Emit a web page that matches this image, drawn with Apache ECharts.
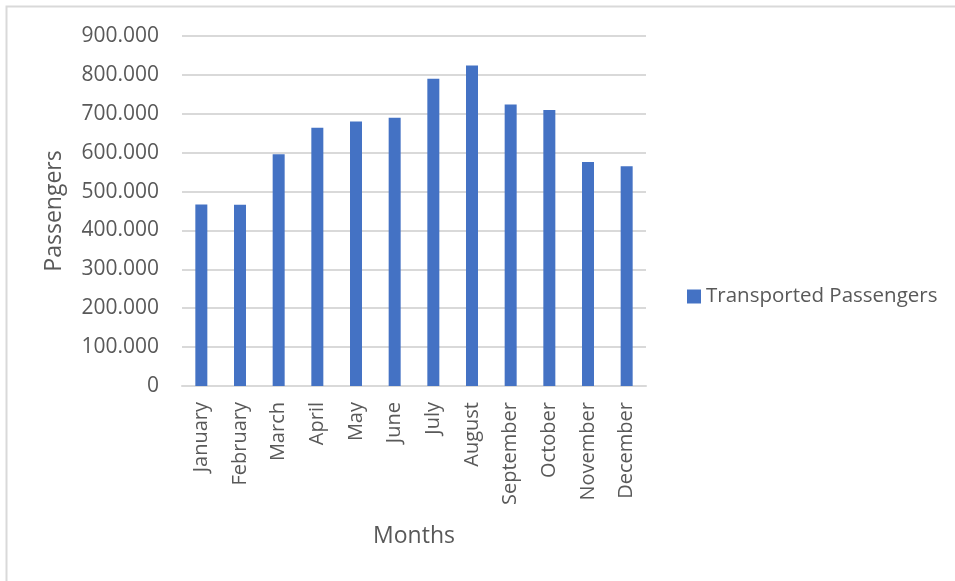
<!DOCTYPE html>
<html>
<head>
<meta charset="utf-8">
<script src="https://cdn.jsdelivr.net/npm/echarts@6/dist/echarts.min.js"></script>
<style>
  html, body { margin: 0; padding: 0; background: #fff; }
  #chart { width: 955px; height: 581px; }
</style>
</head>
<body>
<div id="chart"></div>
<script>
// Monthly transported passengers
const months = ['January', 'February', 'March', 'April', 'May', 'June',
  'July', 'August', 'September', 'October', 'November', 'December'];
const passengers = [467000, 466000, 596000, 664000, 680000, 690000,
  790000, 824000, 724000, 710000, 576000, 565000];
const seriesName = 'Transported Passengers';

const FONT = '"Open Sans", sans-serif';
const TEXT = '#595959';
const GRID_LINE = '#d9d9d9';

// "900.000" style thousands separator
function fmt(v) {
  if (v === 0) return '0';
  const s = String(Math.round(v));
  return s.replace(/\B(?=(\d{3})+(?!\d))/g, '.');
}

const chart = echarts.init(document.getElementById('chart'), null, { renderer: 'canvas' });
chart.setOption({
  backgroundColor: '#fff',
  animation: false,
  graphic: [{
    type: 'rect',
    shape: { x: 6.5, y: 6.5, width: 980, height: 600 },
    style: { fill: 'none', stroke: '#d9d9d9', lineWidth: 2 },
    silent: true
  }],
  grid: { left: 182, right: 309, top: 36, bottom: 195, containLabel: false },
  legend: {
    data: [seriesName],
    orient: 'vertical',
    left: 687,
    top: 286,
    padding: 0,
    itemWidth: 14,
    itemHeight: 14,
    icon: 'rect',
    itemGap: 5,
    textStyle: { fontFamily: FONT, fontSize: 20.5, color: TEXT }
  },
  xAxis: {
    type: 'category',
    data: months,
    name: 'Months',
    nameLocation: 'middle',
    nameGap: 139,
    nameTextStyle: { fontFamily: FONT, fontSize: 23, color: TEXT },
    axisLine: { show: true, lineStyle: { color: GRID_LINE, width: 2 } },
    axisTick: { show: false },
    axisLabel: {
      rotate: 90,
      interval: 0,
      margin: 16,
      fontFamily: FONT,
      fontSize: 20,
      color: TEXT
    }
  },
  yAxis: {
    type: 'value',
    min: 0,
    max: 900000,
    interval: 100000,
    name: 'Passengers',
    nameLocation: 'middle',
    nameGap: 116,
    nameRotate: 90,
    nameTextStyle: { fontFamily: FONT, fontSize: 23, color: TEXT },
    axisLine: { show: false },
    axisTick: { show: false },
    axisLabel: {
      margin: 23,
      fontFamily: FONT,
      fontSize: 21,
      color: TEXT,
      formatter: fmt
    },
    splitLine: { show: true, lineStyle: { color: GRID_LINE, width: 2 } }
  },
  series: [{
    name: seriesName,
    type: 'bar',
    data: passengers,
    barWidth: 12,
    itemStyle: { color: '#4472C4' }
  }]
});
</script>
</body>
</html>
